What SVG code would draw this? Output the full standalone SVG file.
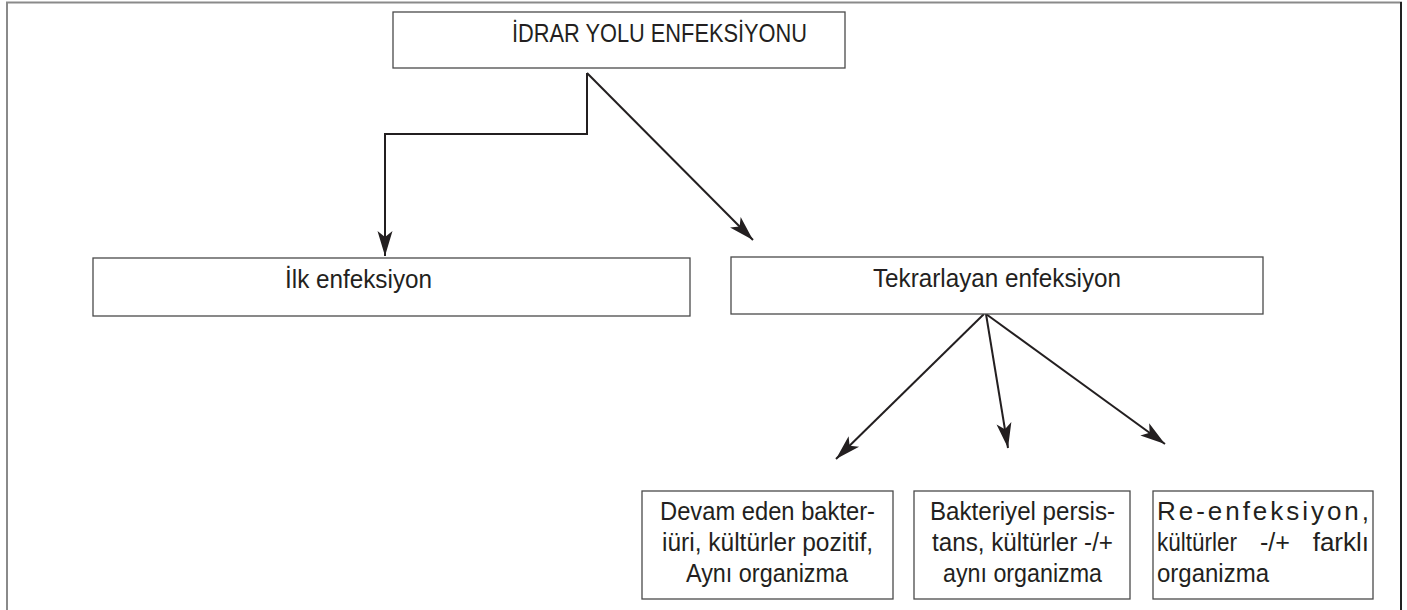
<svg xmlns="http://www.w3.org/2000/svg" width="1407" height="610" viewBox="0 0 1407 610">
<style>
.box{fill:#fff;stroke:#4a4a4a;stroke-width:1.3}
.t{font-family:"Liberation Sans",Arial,sans-serif;font-size:26px;fill:#231f20}
.c{fill:none;stroke:#231f20;stroke-width:2}
</style>
<defs>
<marker id="ah" markerUnits="userSpaceOnUse" markerWidth="30" markerHeight="20" refX="0" refY="0" viewBox="-26 -10 30 20" orient="auto" overflow="visible">
<path d="M0,0 L-25,-7.5 L-19,0 L-25,7.5 Z" fill="#231f20"/>
</marker>
</defs>
<rect width="1407" height="610" fill="#fff"/>
<g id="frame">
<path d="M7,610 V2.5 H1402" fill="none" stroke="#8a8a8a" stroke-width="2"/>
<path d="M1401,2 V610" fill="none" stroke="#222" stroke-width="2"/>
</g>
<g id="connectors">
<path class="c" d="M587,73 V134 H385 V256" marker-end="url(#ah)" stroke-width="2.3"/>
<path class="c" d="M587,73 L753,240" marker-end="url(#ah)"/>
<path class="c" d="M984,314 L836,459" marker-end="url(#ah)"/>
<path class="c" d="M986,314 L1008,448" marker-end="url(#ah)"/>
<path class="c" d="M986,314 L1165,444" marker-end="url(#ah)"/>
</g>
<g id="n-root">
<rect class="box" x="393" y="12" width="452" height="56"/>
<text class="t" x="512" y="42" textLength="295" lengthAdjust="spacingAndGlyphs">İDRAR YOLU ENFEKSİYONU</text>
</g>
<g id="n-ilk">
<rect class="box" x="93" y="258" width="597" height="58"/>
<text class="t" x="285" y="288" textLength="147" lengthAdjust="spacingAndGlyphs">İlk enfeksiyon</text>
</g>
<g id="n-tekrar">
<rect class="box" x="731" y="257" width="532" height="57"/>
<text class="t" x="873" y="287" textLength="248" lengthAdjust="spacingAndGlyphs">Tekrarlayan enfeksiyon</text>
</g>
<g id="n-devam">
<rect class="box" x="642" y="491" width="251" height="108"/>
<text class="t" x="660" y="520" textLength="215" lengthAdjust="spacingAndGlyphs">Devam eden bakter-</text>
<text class="t" x="662" y="551" textLength="211" lengthAdjust="spacingAndGlyphs">iüri, kültürler pozitif,</text>
<text class="t" x="686" y="582" textLength="162" lengthAdjust="spacingAndGlyphs">Aynı organizma</text>
</g>
<g id="n-persis">
<rect class="box" x="914" y="491" width="216" height="108"/>
<text class="t" x="930" y="520" textLength="185" lengthAdjust="spacingAndGlyphs">Bakteriyel persis-</text>
<text class="t" x="932" y="551" textLength="181" lengthAdjust="spacingAndGlyphs">tans, kültürler -/+</text>
<text class="t" x="943" y="582" textLength="159" lengthAdjust="spacingAndGlyphs">aynı organizma</text>
</g>
<g id="n-reenf">
<rect class="box" x="1153" y="491" width="220" height="108"/>
<text class="t" x="1157" y="520" textLength="212" lengthAdjust="spacing">Re-enfeksiyon,</text>
<text class="t" x="1157" y="551" textLength="80" lengthAdjust="spacingAndGlyphs">kültürler</text>
<text class="t" x="1260" y="551" textLength="30" lengthAdjust="spacingAndGlyphs">-/+</text>
<text class="t" x="1369" y="551" text-anchor="end">farklı</text>
<text class="t" x="1157" y="582" textLength="112" lengthAdjust="spacingAndGlyphs">organizma</text>
</g>
</svg>
